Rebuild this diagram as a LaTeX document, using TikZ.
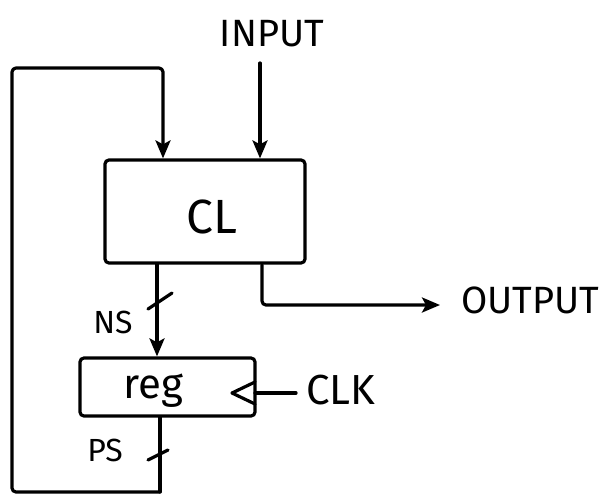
\documentclass[tikz,border=0pt]{standalone}
\usepackage{fontspec}
\setmainfont{Fira Sans}
\usetikzlibrary{arrows.meta,calc}
\begin{document}
\begin{tikzpicture}[x=1pt,y=-1pt,
  wire/.style={line width=3.2pt,line join=round,line cap=round,rounded corners=4pt},
  arr/.style={wire,-{Stealth[length=18pt,width=15pt,inset=4pt]}},
  block/.style={draw,line width=3.2pt,rectangle,rounded corners=4pt,inner sep=0pt},
  lbl/.style={font=\fontsize{38}{42}\selectfont,inner sep=0pt,anchor=base},
  big/.style={font=\fontsize{48}{52}\selectfont,inner sep=0pt,anchor=base}]
\useasboundingbox (0,0) rectangle (613,499);
% blocks
\node[block,minimum width=200pt,minimum height=103pt] (cl) at (205,211.5) {};
\node[big] (cltext) at (212,233) {CL};
\node[block,minimum width=175pt,minimum height=58pt] (reg) at (167.5,387) {};
\node[lbl,font=\fontsize{42}{46}\selectfont] (regtext) at (153,398) {reg};
% labels
\node[lbl] (input) at (272,46) {INPUT};
\node[lbl] (output) at (530,313) {OUTPUT};
\node[lbl,font=\fontsize{42}{46}\selectfont] (clk) at (341,404) {CLK};
\node[lbl,font=\fontsize{32}{36}\selectfont] (ns) at (113,333) {NS};
\node[lbl,font=\fontsize{32}{36}\selectfont] (ps) at (105,461) {PS};
% coordinates
\coordinate (inS) at (260,63);
\coordinate (nsX) at (157,0);
\coordinate (outX) at (262,0);
\coordinate (outC) at (262,305);
\coordinate (outE) at (440,305);
\coordinate (psX) at (160,0);
\coordinate (fb1) at (160,492);
\coordinate (fb2) at (12,492);
\coordinate (fb3) at (12,68);
\coordinate (fb4) at (163,68);
\coordinate (clkS) at (296,393);
\coordinate (clkE) at (255,393);
\coordinate (triT) at (255,382);
\coordinate (triM) at (232,393);
\coordinate (triB) at (255,404);
% connectors
\draw[arr] (inS) -- (inS |- cl.north);
\draw[arr] (fb1) -- (fb2) -- (fb3) -- (fb4) -- (fb4 |- cl.north);
\draw[wire] (psX |- reg.south) -- (fb1);
\draw[arr] (nsX |- cl.south) -- (nsX |- reg.north);
\draw[arr] (outX |- cl.south) -- (outC) -- (outE);
\draw[wire] (clkS) -- (clkE);
\draw[wire,rounded corners=0pt] (triT) -- (triM) -- (triB);
% bus slashes
\draw[wire] (148,309) -- (172,293);
\draw[wire] (148,460) -- (168,450);
\end{tikzpicture}
\end{document}
